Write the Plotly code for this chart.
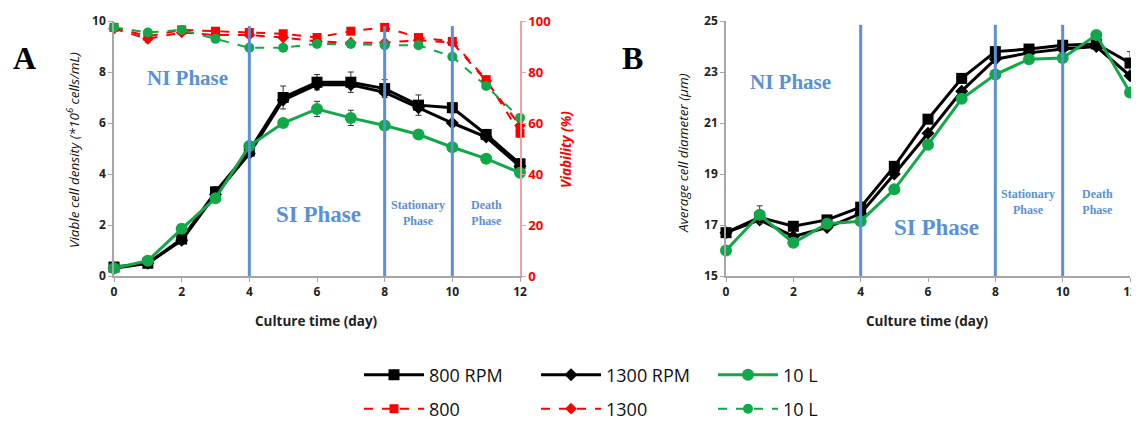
import plotly.graph_objects as go

days = list(range(13))

# Panel A: viable cell density (*10^6 cells/mL)
vcd_800 = [0.35, 0.5, 1.45, 3.3, 4.9, 7.0, 7.6, 7.6, 7.35, 6.7, 6.6, 5.55, 4.4]
vcd_800_err = [0.05, 0.1, 0.15, 0.2, 0.2, 0.45, 0.3, 0.4, 0.35, 0.4, 0.2, 0.2, 0.2]
vcd_1300 = [0.3, 0.5, 1.4, 3.2, 4.8, 6.9, 7.5, 7.5, 7.2, 6.6, 6.0, 5.45, 4.3]
vcd_10l = [0.3, 0.6, 1.85, 3.05, 5.1, 6.0, 6.55, 6.2, 5.9, 5.55, 5.05, 4.6, 4.05]
vcd_10l_err = [0.05, 0.05, 0.1, 0.15, 0.1, 0.1, 0.3, 0.3, 0.1, 0.1, 0.1, 0.1, 0.1]

# Panel A: viability (%)
via_800 = [97.5, 94, 96.5, 96, 95.5, 95, 93.5, 96, 97.5, 93.5, 92, 77, 56]
via_800_err = [0.5, 2.5, 1, 0.8, 0.8, 0.8, 0.8, 0.8, 1, 1.2, 1, 1, 1.5]
via_1300 = [97, 93, 95.5, 94.5, 94.5, 93.5, 92, 91.5, 91.5, 92.5, 91.5, 76.5, 59]
via_10l = [97.5, 95.5, 96.5, 93, 89.5, 89.5, 91, 91, 90.5, 90.5, 86, 74.5, 62]

# Panel B: average cell diameter (um)
dia_800 = [16.7, 17.3, 16.95, 17.2, 17.7, 19.3, 21.15, 22.75, 23.8, 23.9, 24.05, 24.1, 23.35]
dia_800_err = [0.1, 0.1, 0.1, 0.1, 0.1, 0.1, 0.1, 0.1, 0.15, 0.1, 0.15, 0.1, 0.45]
dia_1300 = [16.7, 17.2, 16.55, 16.9, 17.45, 19.0, 20.6, 22.25, 23.5, 23.75, 23.9, 24.0, 22.85]
dia_10l = [16.0, 17.4, 16.3, 17.05, 17.15, 18.4, 20.15, 21.95, 22.9, 23.5, 23.55, 24.45, 22.2]
dia_10l_err = [0.05, 0.35, 0.1, 0.1, 0.1, 0.1, 0.1, 0.1, 0.1, 0.1, 0.1, 0.1, 0.1]

phase_lines = [4, 8, 10]
x_ticks = [0, 2, 4, 6, 8, 10, 12]

BLACK = "#000000"
GREEN = "#12A84A"
RED = "#FF0000"
BLUE = "#5B8FD6"
GRAY = "#A6A6A6"

fig = go.Figure()

def err(arr, color="#333333"):
    return dict(type="data", array=arr, visible=True, color=color, thickness=1, width=3)

# Panel A solid traces
fig.add_trace(go.Scatter(x=days, y=vcd_800, name="800 RPM", mode="lines+markers",
                         line=dict(color=BLACK, width=3), marker=dict(symbol="square", size=11, color=BLACK),
                         error_y=err(vcd_800_err), xaxis="x", yaxis="y", legend="legend"))
fig.add_trace(go.Scatter(x=days, y=vcd_1300, name="1300 RPM", mode="lines+markers",
                         line=dict(color=BLACK, width=3), marker=dict(symbol="diamond", size=10, color=BLACK),
                         xaxis="x", yaxis="y", legend="legend"))
fig.add_trace(go.Scatter(x=days, y=vcd_10l, name="10 L", mode="lines+markers",
                         line=dict(color=GREEN, width=3), marker=dict(symbol="circle", size=12, color=GREEN),
                         error_y=err(vcd_10l_err), xaxis="x", yaxis="y", legend="legend"))

# Panel A dashed viability traces
fig.add_trace(go.Scatter(x=days, y=via_800, name="800", mode="lines+markers",
                         line=dict(color=RED, width=2, dash="dash"), marker=dict(symbol="square", size=9, color=RED),
                         error_y=err(via_800_err, "#555555"), xaxis="x", yaxis="y2", legend="legend2"))
fig.add_trace(go.Scatter(x=days, y=via_1300, name="1300", mode="lines+markers",
                         line=dict(color=RED, width=2, dash="dash"), marker=dict(symbol="diamond", size=9, color=RED),
                         xaxis="x", yaxis="y2", legend="legend2"))
fig.add_trace(go.Scatter(x=days, y=via_10l, name="10 L", mode="lines+markers",
                         line=dict(color=GREEN, width=2, dash="dash"), marker=dict(symbol="circle", size=10, color=GREEN),
                         xaxis="x", yaxis="y2", legend="legend2"))

# Panel B
fig.add_trace(go.Scatter(x=days, y=dia_800, name="800 RPM", mode="lines+markers", showlegend=False,
                         line=dict(color=BLACK, width=3), marker=dict(symbol="square", size=11, color=BLACK),
                         error_y=err(dia_800_err), xaxis="x3", yaxis="y3"))
fig.add_trace(go.Scatter(x=days, y=dia_1300, name="1300 RPM", mode="lines+markers", showlegend=False,
                         line=dict(color=BLACK, width=3), marker=dict(symbol="diamond", size=10, color=BLACK),
                         xaxis="x3", yaxis="y3"))
fig.add_trace(go.Scatter(x=days, y=dia_10l, name="10 L", mode="lines+markers", showlegend=False,
                         line=dict(color=GREEN, width=3), marker=dict(symbol="circle", size=12, color=GREEN),
                         error_y=err(dia_10l_err), xaxis="x3", yaxis="y3"))

for tr in fig.data:
    tr.cliponaxis = False

# The page body has an 8px margin, so the figure is sized/positioned to compensate.
OFF = 8
W, H = 1139 - OFF, 421 - OFF
def px(x):
    return (x - OFF) / W
def py(y):
    return 1 - (y - OFF) / H

tickfont = dict(family="Open Sans, Liberation Sans, sans-serif", size=12, color="#222222", weight="bold")
ydom = [py(276), py(21)]

common_x = dict(range=[0, 12], tickvals=x_ticks, showgrid=False, zeroline=False, showline=True,
                linecolor=GRAY, linewidth=1.5, ticks="outside", ticklen=4, tickcolor=GRAY, tickfont=tickfont,
                automargin=False)

leg_font = dict(family="Open Sans, Liberation Sans, sans-serif", size=18, color="#111111")

fig.update_layout(
    width=W, height=H, margin=dict(l=0, r=0, t=0, b=0, autoexpand=False),
    paper_bgcolor="white", plot_bgcolor="white",
    xaxis=dict(domain=[px(114), px(520)], anchor="y", **common_x),
    yaxis=dict(domain=ydom, range=[0, 10], tickvals=[0, 2, 4, 6, 8, 10], showgrid=False, zeroline=False,
               showline=True, linecolor=GRAY, linewidth=1.5, ticks="outside", ticklen=4, tickcolor=GRAY,
               tickfont=tickfont, anchor="x", automargin=False),
    yaxis2=dict(overlaying="y", side="right", anchor="x", range=[0, 100], tickvals=[0, 20, 40, 60, 80, 100],
                showgrid=False, zeroline=False, showline=True, linecolor="#F4A0A0", linewidth=1.5,
                ticks="outside", ticklen=4, tickcolor="#F4A0A0", automargin=False,
                tickfont=dict(family="Open Sans, Liberation Sans, sans-serif", size=13, color=RED, weight="bold")),
    xaxis3=dict(domain=[px(726), px(1130)], anchor="y3", **common_x),
    yaxis3=dict(domain=ydom, range=[15, 25], tickvals=[15, 17, 19, 21, 23, 25], showgrid=False, zeroline=False,
                showline=True, linecolor=GRAY, linewidth=1.5, ticks="outside", ticklen=4, tickcolor=GRAY,
                tickfont=tickfont, anchor="x3", automargin=False),
    legend=dict(orientation="h", x=px(359), y=py(375), xanchor="left", yanchor="middle",
                font=leg_font, itemwidth=60, entrywidth=102, bgcolor="rgba(0,0,0,0)"),
    legend2=dict(orientation="h", x=px(359), y=py(409), xanchor="left", yanchor="middle",
                 font=leg_font, itemwidth=60, entrywidth=102, bgcolor="rgba(0,0,0,0)"),
)

# Phase separator lines
shapes = []
for d in phase_lines:
    shapes.append(dict(type="line", xref="x", yref="y", x0=d, x1=d, y0=0, y1=9.8,
                       line=dict(color=BLUE, width=3)))
    shapes.append(dict(type="line", xref="x3", yref="y3", x0=d, x1=d, y0=15, y1=24.85,
                       line=dict(color=BLUE, width=3)))
fig.update_layout(shapes=shapes)

serif = "Liberation Serif, Times New Roman, serif"
ann = []
def A(x, y, text, size, color=BLUE, family=serif, bold=True, angle=0):
    ann.append(dict(x=px(x), y=py(y), xref="paper", yref="paper", text=text, showarrow=False,
                    font=dict(family=family, size=size, color=color, weight="bold" if bold else "normal"),
                    textangle=angle, xanchor="center", yanchor="middle"))

# Panel letters
A(24, 58, "A", 32, color="#000000")
A(632, 58, "B", 32, color="#000000")
# Phase labels panel A
A(187, 78, "NI Phase", 21)
A(318, 214, "SI Phase", 23)
A(418, 213, "Stationary<br>Phase", 12)
A(486, 213, "Death<br>Phase", 12)
# Phase labels panel B
A(790, 82, "NI Phase", 21)
A(936, 227, "SI Phase", 23)
A(1028, 202, "Stationary<br>Phase", 12)
A(1097, 202, "Death<br>Phase", 12)

sans = "Open Sans, Liberation Sans, sans-serif"
# axis titles
A(316, 321, "Culture time (day)", 13.5, color="#222222", family=sans)
A(927, 321, "Culture time (day)", 13.5, color="#222222", family=sans)
A(73, 150, "<i>Viable cell density (*10<sup>6</sup> cells/mL)</i>", 13.5, color="#111111", family=sans, bold=False, angle=-90)
A(566, 150, "<i>Viability (%)</i>", 13.5, color=RED, family=sans, bold=True, angle=-90)
A(683, 153, "<i>Average cell diameter (μm)</i>", 13.5, color="#111111", family=sans, bold=False, angle=-90)

fig.update_layout(annotations=ann)

fig.write_html("out.html")
